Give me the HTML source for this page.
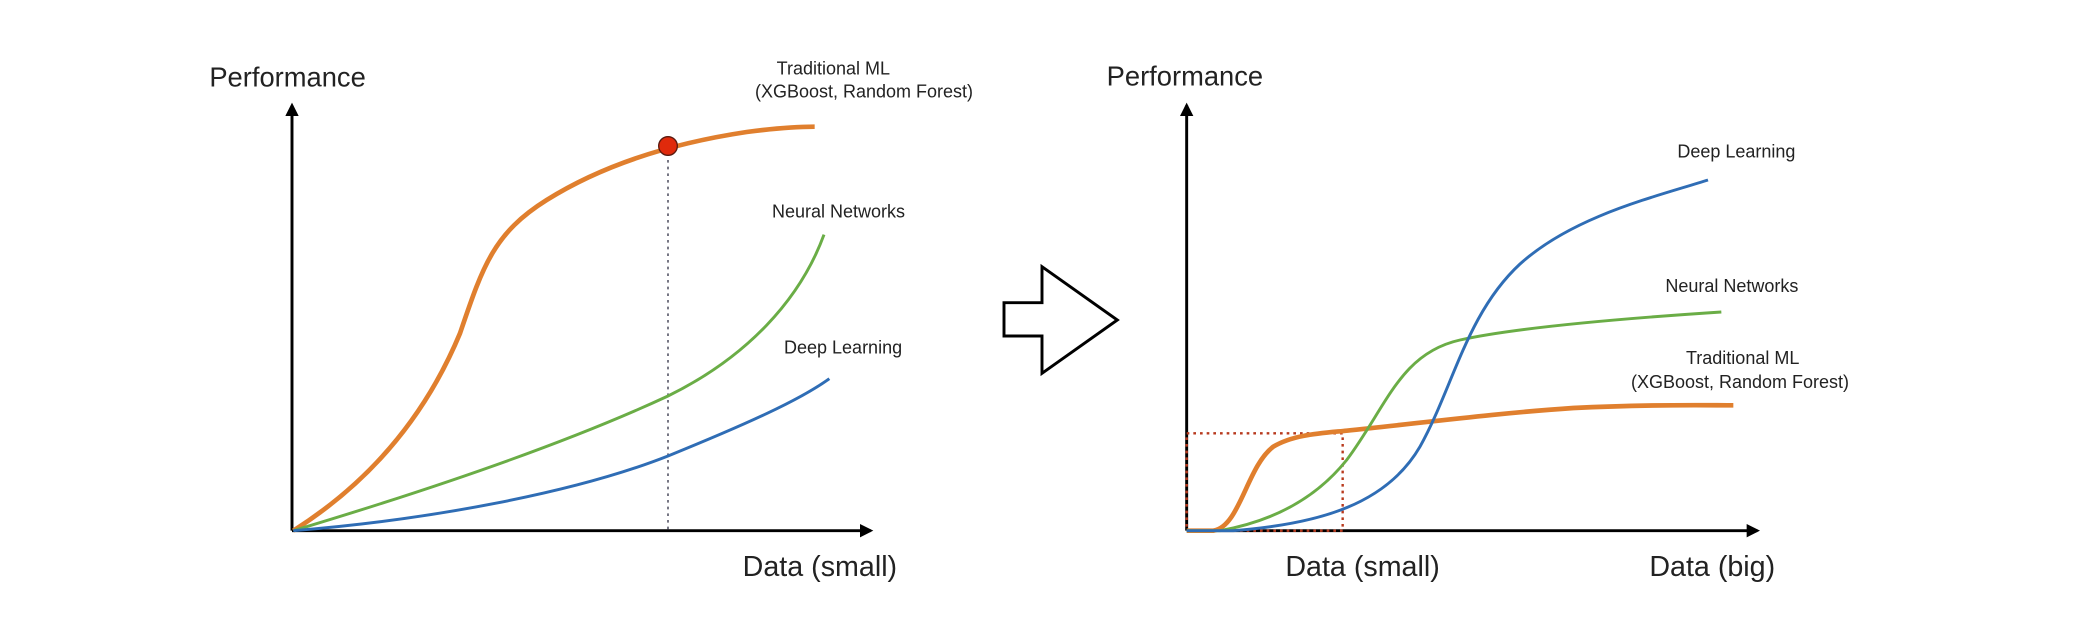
<!DOCTYPE html>
<html><head><meta charset="utf-8"><style>
html,body{margin:0;padding:0;background:#fff;}
svg{display:block;}
text{font-family:"Liberation Sans",sans-serif;fill:#222;}
</style></head><body>
<svg width="2080" height="620" viewBox="0 0 1560 465" xmlns="http://www.w3.org/2000/svg">
<defs>
<marker id="ah" markerWidth="10" markerHeight="10" refX="8" refY="5" orient="auto" markerUnits="userSpaceOnUse">
<path d="M0,0 L10,5 L0,10 Z" fill="#000"/>
</marker>
</defs>
<!-- LEFT CHART -->
<text x="157" y="65" font-size="20.5">Performance</text>
<line x1="219" y1="398" x2="219" y2="79" stroke="#000" stroke-width="2.2" marker-end="url(#ah)"/>
<line x1="219" y1="398" x2="653" y2="398" stroke="#000" stroke-width="2.2" marker-end="url(#ah)"/>
<line x1="501" y1="110" x2="501" y2="398" stroke="#556" stroke-width="1.2" stroke-dasharray="2,3"/>
<path d="M220,398 C280,360 320,310 345,250 C362,200 370,175 410,150 C450,125 500,108 560,99 C590,95 605,95 611,95" fill="none" stroke="#e07f2e" stroke-width="3.5"/>
<path d="M220,398 C330,365 430,330 501,297 C560,268 600,225 618,176" fill="none" stroke="#6aad46" stroke-width="2.2"/>
<path d="M220,398 C320,390 430,370 501,342 C560,318 600,300 622,284" fill="none" stroke="#2f6db5" stroke-width="2.2"/>
<circle cx="501" cy="109.5" r="7" fill="#e02a0c" stroke="#5a1a10" stroke-width="1"/>
<text x="625" y="56" font-size="13.5" text-anchor="middle">Traditional ML</text>
<text x="648" y="73" font-size="13.5" text-anchor="middle">(XGBoost, Random Forest)</text>
<text x="579" y="163" font-size="13.5">Neural Networks</text>
<text x="588" y="265" font-size="13.5">Deep Learning</text>
<text x="557" y="432" font-size="21.5">Data (small)</text>
<!-- ARROW -->
<path d="M753,227 L781.5,227 L781.5,200 L838,240 L781.5,280 L781.5,252 L753,252 Z" fill="#fff" stroke="#000" stroke-width="2.2" stroke-linejoin="miter"/>
<!-- RIGHT CHART -->
<text x="830" y="64" font-size="20.5">Performance</text>
<line x1="890" y1="398" x2="890" y2="79" stroke="#000" stroke-width="2.2" marker-end="url(#ah)"/>
<line x1="890" y1="398" x2="1318" y2="398" stroke="#000" stroke-width="2.2" marker-end="url(#ah)"/>
<rect x="890" y="325" width="117" height="73" fill="none" stroke="#b83a1e" stroke-width="1.8" stroke-dasharray="2,3"/>
<path d="M890,398 L910,398 C930,395 935,350 955,335 C970,326 990,325 1010,323 C1060,318 1120,310 1180,306 C1240,303 1280,304 1300,304" fill="none" stroke="#e07f2e" stroke-width="3.5"/>
<path d="M890,398 L915,398 C960,390 990,370 1010,345 C1040,305 1050,265 1095,255 C1140,245 1230,238 1291,234" fill="none" stroke="#6aad46" stroke-width="2.2"/>
<path d="M890,398 L925,398 C990,393 1040,378 1065,335 C1090,290 1100,235 1140,198 C1180,162 1240,148 1281,135" fill="none" stroke="#2f6db5" stroke-width="2.2"/>
<text x="1258" y="118" font-size="13.5">Deep Learning</text>
<text x="1249" y="219" font-size="13.5">Neural Networks</text>
<text x="1307" y="273" font-size="13.5" text-anchor="middle">Traditional ML</text>
<text x="1305" y="291" font-size="13.5" text-anchor="middle">(XGBoost, Random Forest)</text>
<text x="964" y="432" font-size="21.5">Data (small)</text>
<text x="1237" y="432" font-size="21.5">Data (big)</text>
</svg>
</body></html>
